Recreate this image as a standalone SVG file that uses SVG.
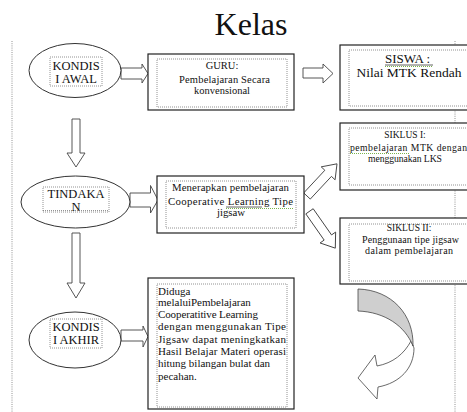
<svg xmlns="http://www.w3.org/2000/svg" width="467" height="412" viewBox="0 0 467 412" font-family="Liberation Serif, serif">
<style>
.t{font-family:'Liberation Serif',serif;fill:#111}
.box{fill:#fff;stroke:#222;stroke-width:1.2}
.in{fill:none;stroke:#777;stroke-width:0.8;stroke-dasharray:1 1}
.ell{fill:#fff;stroke:#333;stroke-width:1}
.arr{fill:#fff;stroke:#444;stroke-width:0.9;stroke-linejoin:miter}
.guide{fill:none;stroke:#777;stroke-width:0.8;stroke-dasharray:1 1.2}
.sq{fill:none;stroke:#6aaa3a;stroke-width:0.9;stroke-dasharray:1 1}
.ul{stroke:#222;stroke-width:0.7}
</style>
<rect width="467" height="412" fill="#fff"/>
<text class="t" x="251" y="35" font-size="32" text-anchor="middle">Kelas</text>
<line class="guide" x1="12" y1="41" x2="12" y2="412"/>
<line class="guide" x1="455" y1="41" x2="455" y2="412"/>

<g id="connectors">
<polygon class="arr" points="121,68 142,68 142,64 148,73.5 142,83 142,79 121,79"/>
<polygon class="arr" points="303,68 323,68 323,64 333,73.5 323,83 323,78 303,78"/>
<polygon class="arr" points="130,193 150.5,193 150.5,185.5 158,200 150.5,213 150.5,207 130,207"/>
<polygon class="arr" points="121,330 143,330 143,326 148,336.5 143,347 143,341 121,341"/>
<polygon class="arr" points="72,119 80,119 80,153 85,153 76,167 67,153 72,153"/>
<polygon class="arr" points="72,233 80,233 80,283 85,283 76,298 67,283 72,283"/>
<polygon class="arr" transform="translate(307,196) rotate(-47)" points="0,-4.5 31,-4.5 31,-9.5 44,0 31,9.5 31,4.5 0,4.5"/>
<polygon class="arr" transform="translate(309.5,211.3) rotate(55)" points="0,-4.5 32,-4.5 32,-9.5 45,0 32,9.5 32,4.5 0,4.5"/>
<path d="M411,341 C404,354 393,363 377,366 L375,355 L358,378 L377,399 L378,387 C400,383 414,368 414,348 Z" fill="#fff" stroke="#444" stroke-width="0.8"/>
<path d="M358,289 C392,290 414,315 413,346 C405,326 385,312 358,311 Z" fill="#cfcfcf" stroke="#444" stroke-width="0.8"/>
</g>

<g id="kondisi-awal">
<ellipse class="ell" cx="75" cy="70.5" rx="46" ry="27"/>
<rect class="in" x="50" y="57" width="52" height="29"/>
<text class="t" x="76" y="70" font-size="12.5" text-anchor="middle">KONDIS</text>
<text class="t" x="76" y="83" font-size="12.5" text-anchor="middle">I AWAL</text>
</g>

<g id="guru">
<rect class="box" x="148" y="54" width="146" height="56"/>
<rect class="in" x="157" y="59" width="130" height="48"/>
<text class="t" x="222" y="69" font-size="10.5" text-anchor="middle">GURU:</text>
<text class="t" x="179" y="83" font-size="10.5" textLength="91" lengthAdjust="spacing">Pembelajaran Secara</text>
<text class="t" x="222" y="94" font-size="10.5" text-anchor="middle">konvensional</text>
</g>

<g id="siswa">
<rect class="box" x="340" y="45" width="140" height="65"/>
<rect class="in" x="349" y="50" width="125" height="56"/>
<text class="t" x="385" y="63" font-size="13">SISWA  :</text>
<line class="ul" x1="385" y1="65" x2="433" y2="65"/>
<line class="sq" x1="385" y1="66.5" x2="433" y2="66.5"/>
<text class="t" x="409" y="77" font-size="13.5" text-anchor="middle">Nilai MTK Rendah</text>
</g>

<g id="tindakan">
<ellipse class="ell" cx="75.5" cy="202" rx="54.5" ry="26"/>
<rect class="in" x="43" y="187" width="66" height="25"/>
<line class="in" x1="43" y1="210.5" x2="109" y2="210.5"/>
<text class="t" x="76" y="198" font-size="12.5" text-anchor="middle">TINDAKA</text>
<text class="t" x="76" y="211" font-size="12.5" text-anchor="middle">N</text>
</g>

<g id="menerapkan">
<rect class="box" x="157" y="176" width="147" height="57"/>
<rect class="in" x="166" y="181" width="130" height="47"/>
<text class="t" x="172" y="191" font-size="10.8" textLength="117" lengthAdjust="spacing">Menerapkan pembelajaran</text>
<text class="t" x="168" y="205" font-size="10.8" textLength="125" lengthAdjust="spacing">Cooperative Learning Tipe</text>
<line class="ul" x1="226" y1="207" x2="262" y2="207"/>
<line class="sq" x1="226" y1="208.5" x2="293" y2="208.5"/>
<text class="t" x="231" y="216" font-size="10.8" text-anchor="middle">jigsaw</text>
</g>

<g id="siklus1">
<rect class="box" x="340" y="123" width="140" height="67"/>
<rect class="in" x="349" y="128" width="125" height="57"/>
<text class="t" x="405" y="138" font-size="9.5" text-anchor="middle">SIKLUS I:</text>
<text class="t" x="350" y="151" font-size="9.7" textLength="117" lengthAdjust="spacing">pembelajaran MTK dengan</text>
<line class="sq" x1="350" y1="153.5" x2="410" y2="153.5"/>
<text class="t" x="368" y="162" font-size="9.7" textLength="74" lengthAdjust="spacing">menggunakan LKS</text>
</g>

<g id="siklus2">
<rect class="box" x="340" y="218" width="140" height="66"/>
<rect class="in" x="349" y="224" width="125" height="57"/>
<text class="t" x="409" y="231" font-size="9.5" text-anchor="middle">SIKLUS II:</text>
<text class="t" x="362" y="243" font-size="10" textLength="97" lengthAdjust="spacing">Penggunaan tipe jigsaw</text>
<text class="t" x="365" y="254" font-size="10" textLength="88" lengthAdjust="spacing">dalam pembelajaran</text>
</g>

<g id="kondisi-akhir">
<ellipse class="ell" cx="75" cy="340" rx="46" ry="28"/>
<rect class="in" x="50" y="319" width="52" height="29"/>
<text class="t" x="76" y="331" font-size="12.5" text-anchor="middle">KONDIS</text>
<text class="t" x="76" y="344" font-size="12.5" text-anchor="middle">I AKHIR</text>
</g>

<g id="diduga">
<rect class="box" x="148" y="278" width="146" height="131"/>
<rect class="in" x="157" y="284" width="130" height="123"/>
<text class="t" x="158" y="295" font-size="11">Diduga</text>
<text class="t" x="158" y="306" font-size="11">melaluiPembelajaran</text>
<text class="t" x="158" y="318" font-size="11" textLength="100" lengthAdjust="spacing">Cooperatitive Learning</text>
<text class="t" x="158" y="330" font-size="11" textLength="128" lengthAdjust="spacing">dengan menggunakan Tipe</text>
<text class="t" x="158" y="343" font-size="11" textLength="128" lengthAdjust="spacing">Jigsaw dapat meningkatkan</text>
<text class="t" x="158" y="355" font-size="11" textLength="128" lengthAdjust="spacing">Hasil Belajar Materi operasi</text>
<text class="t" x="158" y="367" font-size="11">hitung bilangan bulat dan</text>
<text class="t" x="158" y="380" font-size="11">pecahan.</text>
</g>
</svg>
